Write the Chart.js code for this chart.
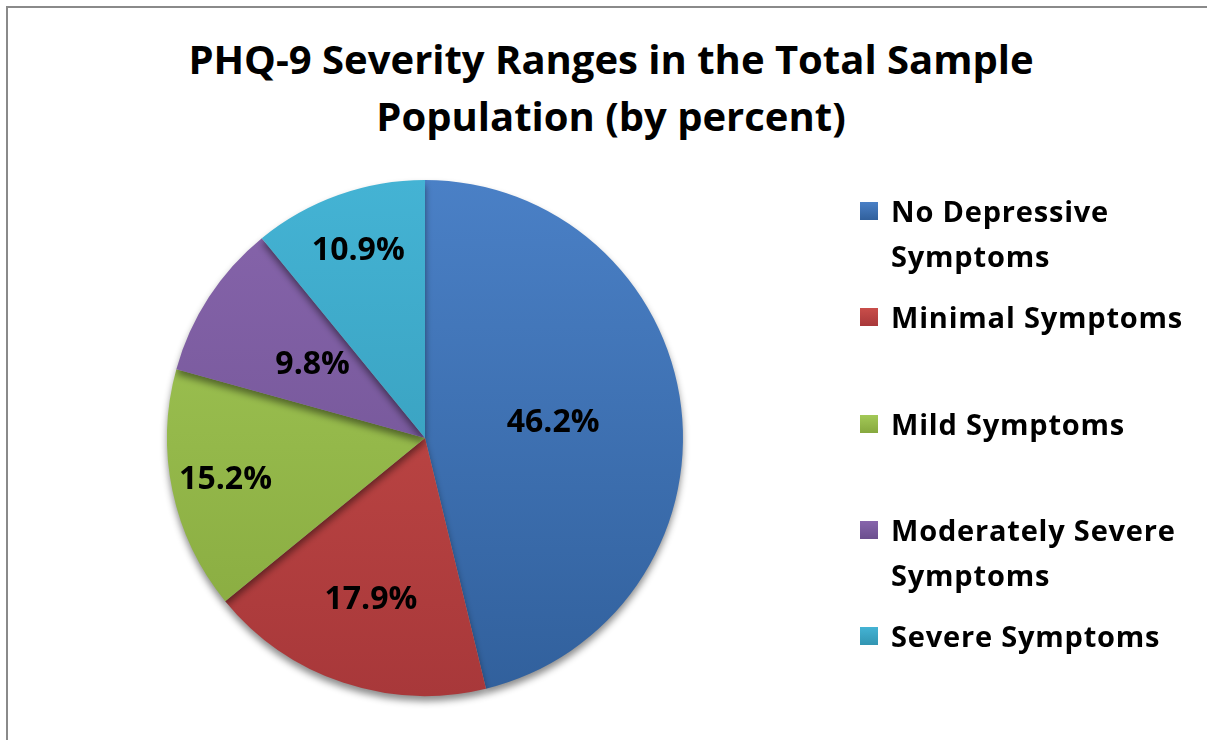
<!DOCTYPE html>
<html>
<head>
<meta charset="utf-8">
<script src="https://cdn.jsdelivr.net/npm/chart.js@4/dist/chart.umd.min.js"></script>
<style>
  html, body { margin: 0; padding: 0; background: #fff; overflow: hidden; }
  #wrap { position: relative; width: 1207px; height: 740px; font-family: "Open Sans", sans-serif; }
  #frame { position: absolute; left: 6px; top: 6px; width: 1300px; height: 900px; border: 2px solid #8a8a8a; }
  #title { position: absolute; left: 0; width: 1222px; top: 30px; text-align: center;
           font-weight: bold; font-size: 40px; line-height: 57px; color: #000; }
  #chart { position: absolute; left: 0; top: 0; }
  .leg { position: absolute; left: 860px; font-weight: bold; font-size: 29px; letter-spacing: 0.8px; line-height: 45px; color: #000; }
  .leg .box { position: absolute; left: 0; top: 14px; width: 18px; height: 18px; }
  .leg .txt { position: absolute; left: 31px; top: 0; white-space: nowrap; }
</style>
</head>
<body>
<div id="wrap">
  <div id="frame"></div>
  <div id="title">PHQ-9 Severity Ranges in the Total Sample<br>Population (by percent)</div>
  <canvas id="chart" width="1207" height="740"></canvas>
</div>
<script>
// --- Datos ---
const categories = ['No Depressive Symptoms', 'Minimal Symptoms', 'Mild Symptoms', 'Moderately Severe Symptoms', 'Severe Symptoms'];
const legendLines = [['No Depressive', 'Symptoms'], ['Minimal Symptoms'], ['Mild Symptoms'], ['Moderately Severe', 'Symptoms'], ['Severe Symptoms']];
const percents = [46.2, 17.9, 15.2, 9.8, 10.9];

// colores (claro arriba, oscuro abajo)
const lightColors = ['#4a80c6', '#c94e4a', '#a3c957', '#8765ac', '#44b3d4'];
const darkColors  = ['#31609c', '#a8383a', '#86a83e', '#6b4f8e', '#3295b2'];

// posición radial de las etiquetas (fracción del radio)
const labelRadius = [0.50, 0.66, 0.79, 0.52, 0.77];

function sliceFill(c) {
    const area = c.chart.chartArea;
    const i = c.dataIndex;
    if (!area) return lightColors[i];
    const g = c.chart.ctx.createLinearGradient(0, area.top, 0, area.bottom);
    g.addColorStop(0, lightColors[i]);
    g.addColorStop(1, darkColors[i]);
    return g;
}

// sombra suave debajo del pastel
const shadowPlugin = {
    id: 'pieShadow',
    beforeDatasetsDraw(chart) {
        const ctx = chart.ctx;
        ctx.save();
        ctx.shadowColor = 'rgba(0,0,0,0.45)';
        ctx.shadowBlur = 7;
        ctx.shadowOffsetY = 5;
    },
    afterDatasetsDraw(chart) {
        chart.ctx.restore();
    }
};

// etiquetas de porcentaje dentro de cada porción
const labelPlugin = {
    id: 'sliceLabels',
    afterDatasetsDraw(chart) {
        const ctx = chart.ctx;
        const meta = chart.getDatasetMeta(0);
        ctx.save();
        ctx.font = 'bold 32px "Open Sans", sans-serif';
        ctx.fillStyle = '#000';
        ctx.textAlign = 'center';
        ctx.textBaseline = 'middle';
        meta.data.forEach((arc, i) => {
            const p = arc.getProps(['x', 'y', 'startAngle', 'endAngle', 'outerRadius'], true);
            const mid = (p.startAngle + p.endAngle) / 2;
            const r = p.outerRadius * labelRadius[i];
            ctx.fillText(percents[i].toFixed(1) + '%', p.x + Math.cos(mid) * r, p.y + Math.sin(mid) * r);
        });
        ctx.restore();
    }
};

const chart = new Chart(document.getElementById('chart'), {
    type: 'pie',
    data: {
        labels: categories,
        datasets: [{
            data: percents,
            backgroundColor: sliceFill,
            borderWidth: 0
        }]
    },
    options: {
        responsive: false,
        animation: false,
        layout: { padding: { left: 167, right: 524, top: 180, bottom: 44 } },
        plugins: {
            legend: { display: false },
            tooltip: { enabled: false }
        }
    },
    plugins: [shadowPlugin, labelPlugin]
});

// --- Leyenda HTML ---
const wrap = document.getElementById('wrap');
legendLines.forEach((lines, i) => {
    const item = document.createElement('div');
    item.className = 'leg';
    item.style.top = (188 + i * 106.3) + 'px';
    const box = document.createElement('div');
    box.className = 'box';
    box.style.background = `linear-gradient(${lightColors[i]}, ${darkColors[i]})`;
    const txt = document.createElement('div');
    txt.className = 'txt';
    txt.innerHTML = lines.join('<br>');
    item.appendChild(box);
    item.appendChild(txt);
    wrap.appendChild(item);
});
</script>
</body>
</html>
